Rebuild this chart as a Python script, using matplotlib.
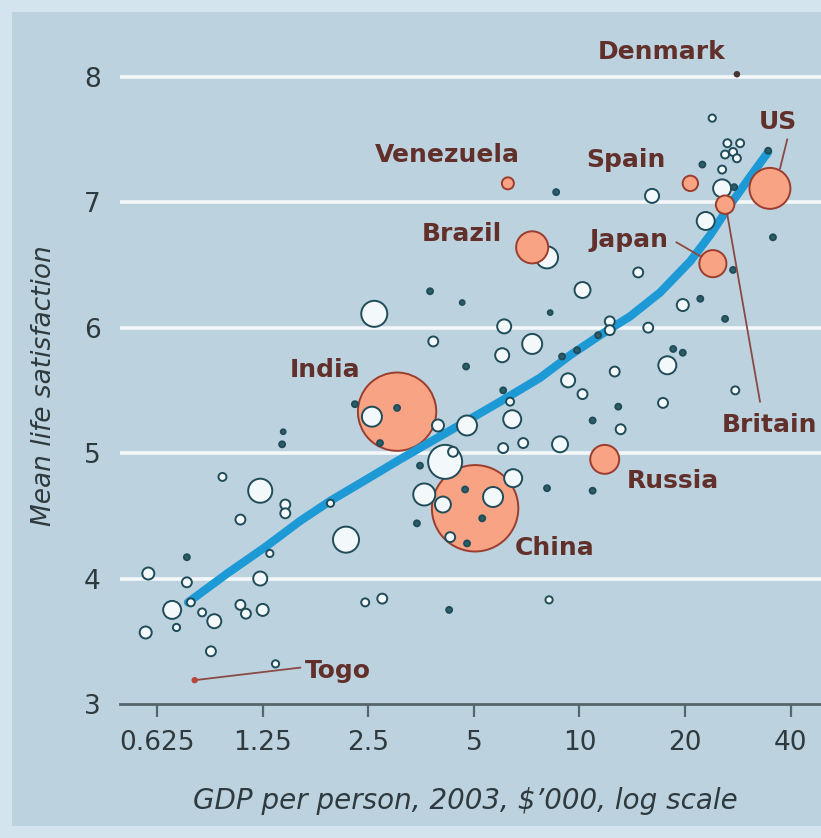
import numpy as np
import matplotlib.pyplot as plt
from matplotlib.patches import Rectangle
from matplotlib.ticker import NullLocator

plt.rcParams["font.family"] = ["DejaVu Sans"]

OUTER = "#d3e4ee"; PANEL = "#bcd2df"; GRID = "#f4f8fa"
SALMON = "#f8a383"; SALMON_EDGE = "#9b3d2e"
WHITE = "#f3f8fa"; EDGE = "#1f4c58"; DOT = "#2d5f6b"
LINE = "#1d9ad6"; LABEL = "#62302b"; AXIS = "#56666c"; TICK = "#2f3a3e"

# labelled countries: GDP per person ($'000), mean life satisfaction, population (m)
names = ["China", "India", "US", "Brazil", "Russia", "Japan", "Britain",
         "Spain", "Venezuela", "Denmark", "Togo"]
gdp = [5.04, 3.02, 34.9, 7.33, 11.8, 24.0, 26.0, 20.7, 6.25, 28.1, 0.80]
sat = [4.56, 5.33, 7.11, 6.64, 4.95, 6.51, 6.98, 7.15, 7.15, 8.02, 3.19]
pop = [1290, 1060, 290, 178, 145, 127, 59, 41, 25, 5.4, 5]

# all other countries
other_gdp = [1.43, 1.42, 0.96, 1.23, 1.45, 1.45, 1.08, 0.76, 0.59, 0.76,
             0.78, 0.69, 0.84, 0.91, 0.71, 0.58, 0.89, 1.23, 1.08, 1.12,
             1.25, 1.31, 1.36, 2.16, 2.45, 2.74, 4.25, 8.19, 3.44, 3.75,
             4.63, 8.25, 2.60, 6.10, 3.83, 7.33, 6.02, 4.75, 6.06, 6.34,
             2.29, 2.56, 3.02, 2.70, 3.95, 4.78, 6.43, 6.06, 6.91, 8.80,
             4.14, 4.36, 3.51, 3.61, 4.08, 5.67, 6.47, 4.72, 8.08, 5.28,
             4.28, 4.78, 1.95, 12.2, 12.2, 15.7, 26.0, 19.7, 11.3, 9.84,
             8.92, 17.8, 18.5, 19.7, 12.6, 9.28, 10.2, 27.8, 12.9, 17.3,
             10.9, 13.1, 10.9, 23.9, 26.4, 28.7, 27.4, 28.1, 26.0, 22.4,
             25.5, 8.58, 16.1, 25.5, 27.6, 34.5, 22.9, 35.6, 27.4, 14.7,
             10.2, 22.1, 8.08]
other_sat = [5.17, 5.07, 4.81, 4.70, 4.59, 4.52, 4.47, 4.17, 4.04, 3.97,
             3.81, 3.75, 3.73, 3.66, 3.61, 3.57, 3.42, 4.00, 3.79, 3.72,
             3.75, 4.20, 3.32, 4.31, 3.81, 3.84, 3.75, 3.83, 4.44, 6.29,
             6.20, 6.12, 6.11, 6.01, 5.89, 5.87, 5.78, 5.69, 5.50, 5.41,
             5.39, 5.29, 5.36, 5.08, 5.22, 5.22, 5.27, 5.04, 5.08, 5.07,
             4.93, 5.01, 4.90, 4.67, 4.59, 4.65, 4.80, 4.71, 4.72, 4.48,
             4.33, 4.28, 4.60, 6.05, 5.98, 6.00, 6.07, 6.18, 5.94, 5.82,
             5.77, 5.70, 5.83, 5.80, 5.65, 5.58, 5.47, 5.50, 5.37, 5.40,
             5.26, 5.19, 4.70, 7.67, 7.47, 7.47, 7.40, 7.35, 7.38, 7.30,
             7.26, 7.08, 7.05, 7.11, 7.12, 7.41, 6.85, 6.72, 6.46, 6.44,
             6.30, 6.23, 6.56]
other_pop = [4, 6, 11, 100, 17, 17, 17, 6, 25, 17,
             11, 56, 11, 34, 9, 25, 17, 34, 17, 17,
             25, 9, 9, 117, 11, 17, 6, 9, 6, 6,
             4, 4, 117, 34, 17, 69, 34, 6, 6, 11,
             6, 69, 6, 6, 25, 69, 56, 17, 17, 44,
             200, 17, 6, 84, 44, 69, 56, 6, 6, 6,
             17, 6, 9, 17, 17, 17, 6, 25, 6, 6,
             6, 56, 6, 6, 17, 34, 17, 11, 6, 17,
             6, 17, 6, 9, 11, 11, 11, 11, 11, 6,
             11, 6, 34, 56, 6, 6, 56, 6, 6, 17,
             44, 6, 84]

# fitted trend
trend_gdp = [0.766, 0.99, 1.27, 1.60, 1.95, 2.37, 3.08, 4.28, 5.94, 7.72,
             9.40, 11.45, 13.94, 16.97, 20.7, 23.6, 26.9, 30.6, 34.5]
trend_sat = [3.81, 4.04, 4.25, 4.46, 4.62, 4.76, 4.95, 5.18, 5.41, 5.60,
             5.78, 5.94, 6.09, 6.28, 6.53, 6.74, 6.98, 7.20, 7.40]

xticks = [0.625, 1.25, 2.5, 5, 10, 20, 40]
xticklabels = ["0.625", "1.25", "2.5", "5", "10", "20", "40"]
yticks = [3, 4, 5, 6, 7, 8]

W, H = 821, 838
fig = plt.figure(figsize=(W / 100, H / 100), dpi=100)
fig.patch.set_facecolor(OUTER)
fig.add_artist(Rectangle((12 / W, 12 / H), 1, 1 - 24 / H, transform=fig.transFigure,
                         facecolor=PANEL, edgecolor="none", zorder=0))
ax = fig.add_axes([120 / W, 134 / H, 701 / W, 690 / H])
ax.set_facecolor("none")
ax.set_xscale("log", base=2)
ax.set_xlim(0.49, 48.8)
ax.set_ylim(3, 8.5)

for y in yticks[1:]:
    ax.axhline(y, color=GRID, lw=2.6, zorder=1)

for s in ["top", "right", "left"]:
    ax.spines[s].set_visible(False)
ax.spines["bottom"].set_color(AXIS)
ax.spines["bottom"].set_linewidth(2)

ax.set_xticks(xticks)
ax.set_xticklabels(xticklabels)
ax.xaxis.set_minor_locator(NullLocator())
ax.set_yticks(yticks)
ax.tick_params(axis="x", direction="out", length=9, width=1.6, color=AXIS,
               labelsize=19, labelcolor=TICK, pad=10)
ax.tick_params(axis="y", length=0, labelsize=19, labelcolor=TICK, pad=14)

ax.set_xlabel("GDP per person, 2003, $\u2019000, log scale", fontsize=20,
              style="italic", color=TICK)
ax.xaxis.set_label_coords(0.492, -0.12)
ax.set_ylabel("Mean life satisfaction", fontsize=19, style="italic", color=TICK)
ax.yaxis.set_label_coords(-0.09, 0.462)

# trend line
ax.plot(trend_gdp, trend_sat, color=LINE, lw=6, solid_capstyle="round",
        solid_joinstyle="round", zorder=2.5)

# other countries, biggest first
og = np.array(other_gdp); osat = np.array(other_sat); op = np.array(other_pop, float)
order = np.argsort(-op, kind="stable")
face = np.where(op < 8, DOT, WHITE)
ax.scatter(og[order], osat[order], s=3 * op[order], c=face[order],
           edgecolors=EDGE, linewidths=1.4, zorder=3)

# labelled countries
hg = np.array(gdp); hs = np.array(sat); hp = np.array(pop, float)
big = hp > 500
ax.scatter(hg[big], hs[big], s=3 * hp[big], c=SALMON, edgecolors=SALMON_EDGE,
           linewidths=1.4, zorder=2)
mid = (~big) & (hp >= 8)
ax.scatter(hg[mid], hs[mid], s=3 * hp[mid], c=SALMON, edgecolors=SALMON_EDGE,
           linewidths=1.4, zorder=4)
small = hp < 8
ax.scatter(hg[small], hs[small], s=3 * hp[small] + 6, c=["#4a3535", "#b8443a"],
           edgecolors="none", zorder=4)

# leader lines
lk = dict(color="#8a4a44", lw=1.3, zorder=3.5)
ax.plot([0.80, 1.60], [3.19, 3.29], **lk)
ax.plot([18.9, 22.4], [6.68, 6.56], **lk)
ax.plot([26.2, 32.7], [6.95, 5.41], **lk)
ax.plot([39.1, 37.3], [7.50, 7.27], **lk)

labels = {
    "Denmark": (17.2, 8.20, "center"),
    "US": (36.8, 7.64, "center"),
    "Venezuela": (4.19, 7.38, "center"),
    "Spain": (13.6, 7.34, "center"),
    "Brazil": (4.63, 6.75, "center"),
    "Japan": (13.8, 6.70, "center"),
    "Britain": (34.9, 5.22, "center"),
    "India": (1.88, 5.66, "center"),
    "China": (8.52, 4.24, "center"),
    "Russia": (18.5, 4.78, "center"),
    "Togo": (1.65, 3.26, "left"),
}
for name in names:
    x, y, ha = labels[name]
    ax.text(x, y, name, fontsize=18, fontweight="bold", color=LABEL,
            ha=ha, va="center", zorder=6, clip_on=False)

fig.savefig("out.png", dpi=100, facecolor=OUTER)
